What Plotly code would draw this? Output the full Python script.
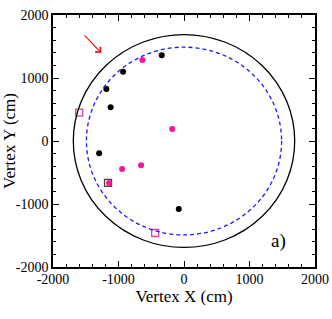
import plotly.graph_objects as go

# Data
black_x = [-340, -930, -1185, -1120, -1295, -80]
black_y = [1360, 1100, 825, 535, -195, -1080]
pink_x = [-635, -180, -945, -655, -1145]
pink_y = [1285, 190, -445, -385, -665]
pink_sq_x = [-1600, -440]
pink_sq_y = [450, -1460]
grey_sq_x = [-1160]
grey_sq_y = [-665]
outer_radius = 1690
inner_radius = 1490
arrow_tail = (-1540, 1700)
arrow_head = (-1265, 1400)
tick_vals = [-2000, -1000, 0, 1000, 2000]
tick_text = ["-2000", "-1000", "0", "1000", "2000"]

FONT = "Liberation Serif"

fig = go.Figure()

fig.add_shape(type="circle", xref="x", yref="y",
              x0=-outer_radius, y0=-outer_radius, x1=outer_radius, y1=outer_radius,
              line=dict(color="black", width=1.3))
fig.add_shape(type="circle", xref="x", yref="y",
              x0=-inner_radius, y0=-inner_radius, x1=inner_radius, y1=inner_radius,
              line=dict(color="#1a1aff", width=1.3, dash="4px,3px"))

fig.add_trace(go.Scatter(x=grey_sq_x, y=grey_sq_y, mode="markers",
                         marker=dict(symbol="square-open", size=7, color="#444444",
                                     line=dict(width=1.3, color="#444444"))))
fig.add_trace(go.Scatter(x=pink_sq_x, y=pink_sq_y, mode="markers",
                         marker=dict(symbol="square-open", size=7, color="#e0409f",
                                     line=dict(width=1.3, color="#e0409f"))))
fig.add_trace(go.Scatter(x=black_x, y=black_y, mode="markers",
                         marker=dict(symbol="circle", size=6, color="black")))
fig.add_trace(go.Scatter(x=pink_x, y=pink_y, mode="markers",
                         marker=dict(symbol="circle", size=6, color="#ff1493")))

fig.add_annotation(x=arrow_head[0], y=arrow_head[1], ax=arrow_tail[0], ay=arrow_tail[1],
                   xref="x", yref="y", axref="x", ayref="y", text="",
                   showarrow=True, arrowhead=4, arrowsize=1.3, arrowwidth=1.1,
                   arrowcolor="red")
fig.add_annotation(x=1450, y=-1590, xref="x", yref="y", text="a)", showarrow=False,
                   font=dict(family=FONT, size=19, color="black"))

axis_common = dict(
    showgrid=False, zeroline=False, showline=True, linecolor="black", linewidth=1.5,
    mirror="ticks", ticks="inside", ticklen=6, tickwidth=1, tickcolor="black",
    tickvals=tick_vals, ticktext=tick_text, range=[-2000, 2000], automargin=False,
    tickfont=dict(family=FONT, size=14, color="black"),
    minor=dict(dtick=200, tick0=0, ticks="inside", ticklen=3, tickwidth=1, tickcolor="black"),
)

fig.update_layout(
    width=332, height=319,
    margin=dict(l=53, r=17, t=15, b=52),
    paper_bgcolor="white", plot_bgcolor="white",
    showlegend=False,
    xaxis=dict(title=dict(text="Vertex X (cm)", font=dict(family=FONT, size=17, color="black"),
                          standoff=2),
               ticklabelstandoff=-2, **axis_common),
    yaxis=dict(title=dict(text="Vertex Y (cm)", font=dict(family=FONT, size=17, color="black"),
                          standoff=0),
               **axis_common),
)

fig.write_html("out.html", post_script="document.body.style.margin='0';",
               config={"displayModeBar": False})
